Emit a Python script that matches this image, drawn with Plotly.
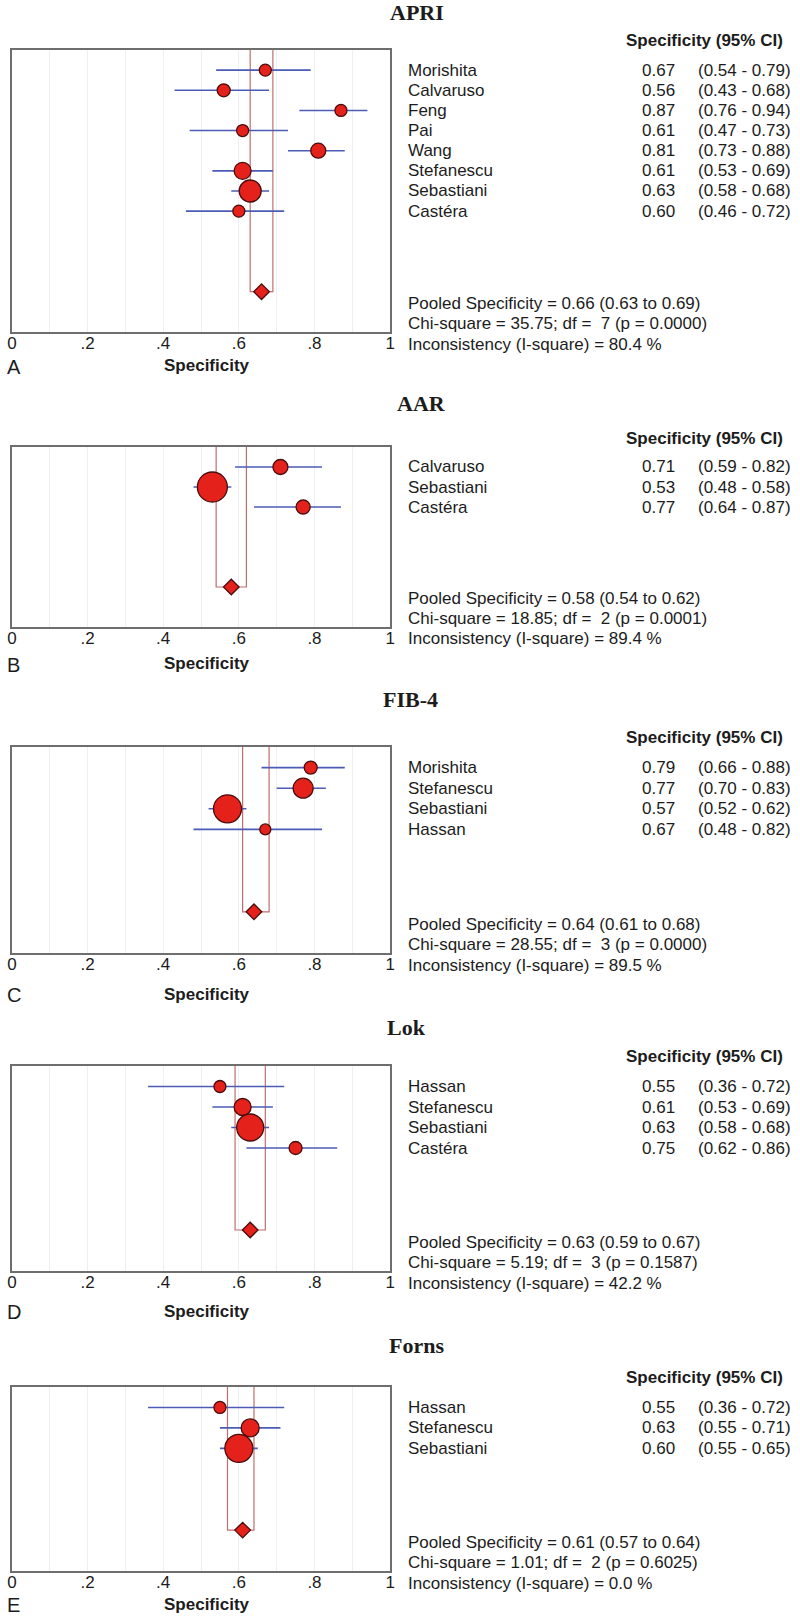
import plotly.graph_objects as go

W, H = 800, 1616

# ---------------- data ----------------
panel_titles = ["APRI", "AAR", "FIB-4", "Lok", "Forns"]
panel_letters = ["A", "B", "C", "D", "E"]

apri_studies = ["Morishita", "Calvaruso", "Feng", "Pai", "Wang", "Stefanescu", "Sebastiani", "Castéra"]
apri_spec = [0.67, 0.56, 0.87, 0.61, 0.81, 0.61, 0.63, 0.60]
apri_lo = [0.54, 0.43, 0.76, 0.47, 0.73, 0.53, 0.58, 0.46]
apri_hi = [0.79, 0.68, 0.94, 0.73, 0.88, 0.69, 0.68, 0.72]
apri_weight = [12, 13, 12, 12, 15, 17, 22, 12]
apri_pooled = [0.66, 0.63, 0.69]
apri_chi = ["35.75", "7", "0.0000"]
apri_i2 = "80.4"

aar_studies = ["Calvaruso", "Sebastiani", "Castéra"]
aar_spec = [0.71, 0.53, 0.77]
aar_lo = [0.59, 0.48, 0.64]
aar_hi = [0.82, 0.58, 0.87]
aar_weight = [15, 30, 14]
aar_pooled = [0.58, 0.54, 0.62]
aar_chi = ["18.85", "2", "0.0001"]
aar_i2 = "89.4"

fib4_studies = ["Morishita", "Stefanescu", "Sebastiani", "Hassan"]
fib4_spec = [0.79, 0.77, 0.57, 0.67]
fib4_lo = [0.66, 0.70, 0.52, 0.48]
fib4_hi = [0.88, 0.83, 0.62, 0.82]
fib4_weight = [13, 20, 28, 11]
fib4_pooled = [0.64, 0.61, 0.68]
fib4_chi = ["28.55", "3", "0.0000"]
fib4_i2 = "89.5"

lok_studies = ["Hassan", "Stefanescu", "Sebastiani", "Castéra"]
lok_spec = [0.55, 0.61, 0.63, 0.75]
lok_lo = [0.36, 0.53, 0.58, 0.62]
lok_hi = [0.72, 0.69, 0.68, 0.86]
lok_weight = [12, 17, 27, 13]
lok_pooled = [0.63, 0.59, 0.67]
lok_chi = ["5.19", "3", "0.1587"]
lok_i2 = "42.2"

forns_studies = ["Hassan", "Stefanescu", "Sebastiani"]
forns_spec = [0.55, 0.63, 0.60]
forns_lo = [0.36, 0.55, 0.55]
forns_hi = [0.72, 0.71, 0.65]
forns_weight = [12, 18, 28]
forns_pooled = [0.61, 0.57, 0.64]
forns_chi = ["1.01", "2", "0.6025"]
forns_i2 = "0.0"

tick_vals = [0, 0.2, 0.4, 0.6, 0.8, 1]
tick_text = ["0", ".2", ".4", ".6", ".8", "1"]

# ---------------- layout (pixels) ----------------
box_px = [(50, 332), (447, 627), (747, 953), (1066, 1271), (1387, 1571)]
title_px = [(388, 13), (395, 403), (381, 700), (385, 1027), (387, 1345)]
label_y_px = [366, 664, 994, 1311, 1604]
x_left_px, x_right_px = 7, 390

panels = [
    (apri_studies, apri_spec, apri_lo, apri_hi, apri_weight, apri_pooled, apri_chi, apri_i2),
    (aar_studies, aar_spec, aar_lo, aar_hi, aar_weight, aar_pooled, aar_chi, aar_i2),
    (fib4_studies, fib4_spec, fib4_lo, fib4_hi, fib4_weight, fib4_pooled, fib4_chi, fib4_i2),
    (lok_studies, lok_spec, lok_lo, lok_hi, lok_weight, lok_pooled, lok_chi, lok_i2),
    (forns_studies, forns_spec, forns_lo, forns_hi, forns_weight, forns_pooled, forns_chi, forns_i2),
]

SANS = "Liberation Sans, Arial, sans-serif"
SERIF = "Liberation Serif, Times New Roman, serif"
TXT = "#1c1c1c"
RED = "#e4221b"
EDGE = "#4a0c0c"
BLUE = "#4b5bb6"
BAND = "#bf6e6e"
GRID = "#eceff6"
FRAME = "#6e6e6e"


def px(x):
    return x / W


def py(y):
    return 1 - y / H


fig = go.Figure()
annotations = []


def text(t, xp, yp, anchor="left", size=17, family=SANS):
    annotations.append(dict(
        text=t, xref="paper", yref="paper", x=px(xp), y=py(yp),
        xanchor=anchor, yanchor="middle", showarrow=False,
        font=dict(family=family, size=size, color=TXT)))


for k, (studies, spec, lo, hi, wt, pooled, chi, i2) in enumerate(panels):
    n = len(studies)
    sfx = "" if k == 0 else str(k + 1)
    xa, ya = "x" + sfx, "y" + sfx
    rows = list(range(n))
    drow = n + 3
    top, bot = box_px[k]
    step = (bot - top) / (n + 6)

    def rowpx(r):
        return top + (r + 1) * step

    # pooled CI band (open-top box down to diamond)
    fig.add_trace(go.Scatter(
        x=[pooled[1], pooled[1], pooled[2], pooled[2]],
        y=[-1, drow, drow, -1],
        mode="lines", line=dict(color=BAND, width=1.2),
        xaxis=xa, yaxis=ya, showlegend=False, hoverinfo="skip"))

    # CI lines
    cx, cy = [], []
    for i in rows:
        cx += [lo[i], hi[i], None]
        cy += [i, i, None]
    fig.add_trace(go.Scatter(
        x=cx, y=cy, mode="lines", line=dict(color=BLUE, width=1.6),
        xaxis=xa, yaxis=ya, showlegend=False, hoverinfo="skip"))

    # study points
    fig.add_trace(go.Scatter(
        x=spec, y=rows, mode="markers",
        marker=dict(color=RED, size=wt, opacity=1, line=dict(color=EDGE, width=1.3)),
        xaxis=xa, yaxis=ya, showlegend=False))

    # pooled diamond
    fig.add_trace(go.Scatter(
        x=[pooled[0]], y=[drow], mode="markers",
        marker=dict(color=RED, size=12, opacity=1, symbol="diamond",
                    line=dict(color=EDGE, width=1.3)),
        xaxis=xa, yaxis=ya, showlegend=False))

    fig.layout["xaxis" + sfx] = dict(
        domain=[px(x_left_px), px(x_right_px)], anchor=ya, range=[0, 1],
        tickvals=tick_vals, ticktext=tick_text, ticks="", ticklabelstandoff=-5,
        tickfont=dict(family=SANS, size=17, color=TXT),
        showgrid=True, gridcolor=GRID, gridwidth=1, zeroline=False,
        minor=dict(tick0=0, dtick=0.1, showgrid=True, gridcolor=GRID, gridwidth=1),
        showline=True, mirror=True, linecolor=FRAME, linewidth=2,
        fixedrange=True)
    fig.layout["yaxis" + sfx] = dict(
        domain=[py(bot), py(top)], anchor=xa, range=[n + 5, -1],
        showticklabels=False, ticks="", showgrid=False, zeroline=False,
        showline=True, mirror=True, linecolor=FRAME, linewidth=2,
        fixedrange=True)

    tx, ty = title_px[k]
    text("<b>%s</b>" % panel_titles[k], tx, ty, size=22, family=SERIF)
    text("<b>Specificity (95% CI)</b>", 790, rowpx(-1.45), anchor="right")
    for i in rows:
        text(studies[i], 406, rowpx(i))
        text("%.2f" % spec[i], 681, rowpx(i), anchor="right")
        text("(%.2f - %.2f)" % (lo[i], hi[i]), 700, rowpx(i))
    summary = [
        "Pooled Specificity = %.2f (%.2f to %.2f)" % (pooled[0], pooled[1], pooled[2]),
        "Chi-square = %s; df =\u00a0 %s (p = %s)" % (chi[0], chi[1], chi[2]),
        "Inconsistency (I-square) = %s %%" % i2,
    ]
    for j, line in enumerate(summary):
        text(line, 406, rowpx(n + 3.6 + j))
    text("<b>Specificity</b>", 205, label_y_px[k], anchor="center")
    text(panel_letters[k], 0, label_y_px[k] + 1, size=20)

fig.update_layout(
    width=W, height=H, margin=dict(l=0, r=0, t=0, b=0),
    paper_bgcolor="white", plot_bgcolor="white",
    annotations=annotations, showlegend=False)

fig.write_html("out.html", config={"displayModeBar": False},
               post_script="document.body.style.margin='0';")
